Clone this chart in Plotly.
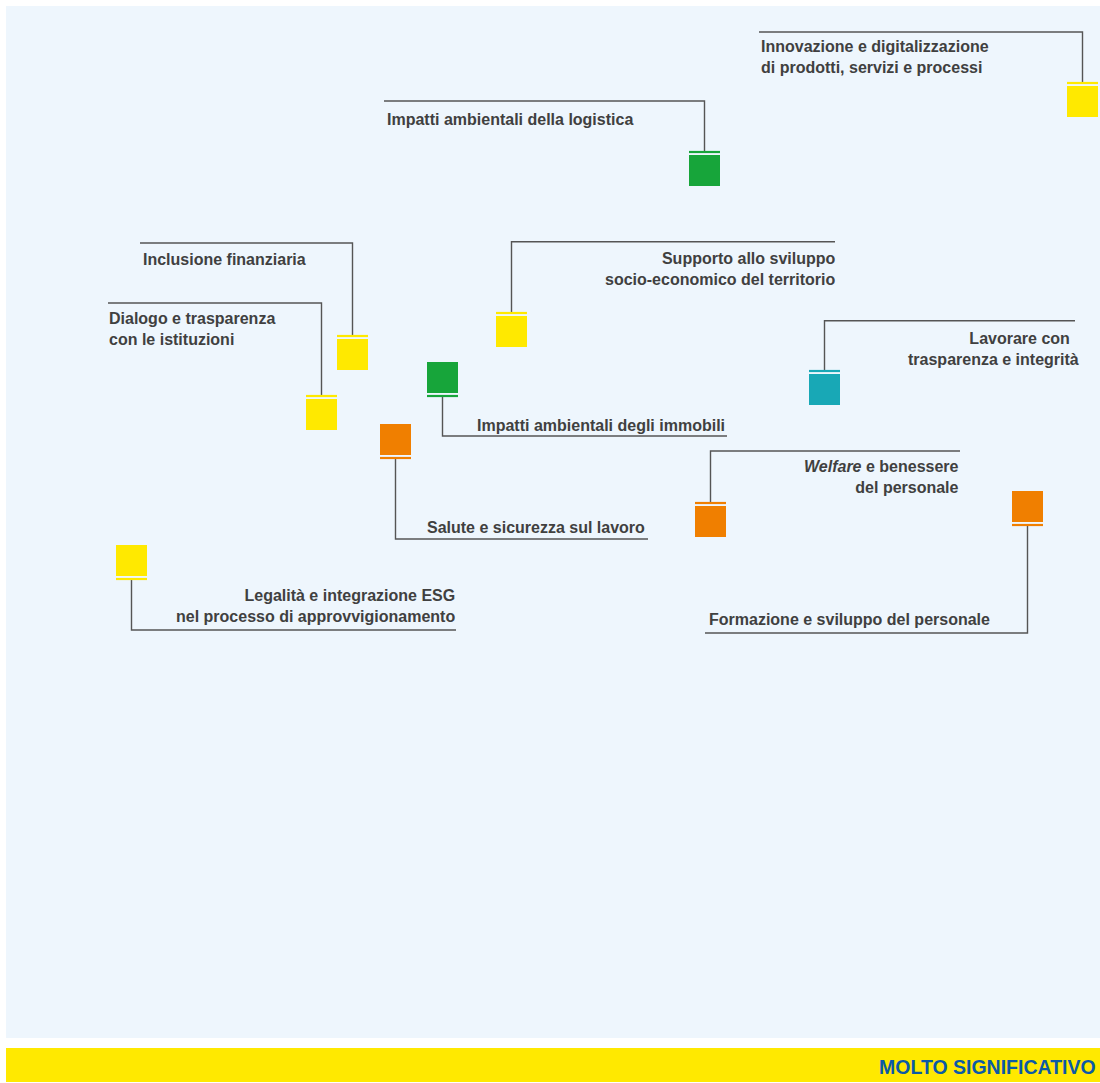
import plotly.graph_objects as go

# ---------------- data ----------------
topics = [
    "Innovazione e digitalizzazione di prodotti, servizi e processi",
    "Impatti ambientali della logistica",
    "Inclusione finanziaria",
    "Dialogo e trasparenza con le istituzioni",
    "Supporto allo sviluppo socio-economico del territorio",
    "Lavorare con trasparenza e integrità",
    "Impatti ambientali degli immobili",
    "Salute e sicurezza sul lavoro",
    "Welfare e benessere del personale",
    "Formazione e sviluppo del personale",
    "Legalità e integrazione ESG nel processo di approvvigionamento",
]
x_values = [10.765, 6.985, 3.465, 3.155, 5.055, 8.185, 4.365, 3.895, 7.045, 10.215, 1.255]
y_values = [9.365, 8.675, 6.835, 6.235, 7.065, 6.485, 6.605, 5.985, 5.165, 5.315, 4.775]
pillar = ["gov", "env", "gov", "gov", "gov", "ethics", "env", "social", "social", "social", "gov"]
label_text = [
    "Innovazione e digitalizzazione<br>di prodotti, servizi e processi",
    "Impatti ambientali della logistica",
    "Inclusione finanziaria",
    "Dialogo e trasparenza<br>con le istituzioni",
    "Supporto allo sviluppo<br>socio-economico del territorio",
    "Lavorare con&nbsp;&nbsp;<br>trasparenza e integrità",
    "Impatti ambientali degli immobili",
    "Salute e sicurezza sul lavoro",
    "<i>Welfare</i> e benessere<br>del personale",
    "Formazione e sviluppo del personale",
    "Legalità e integrazione ESG<br>nel processo di approvvigionamento",
]
band_label = "MOLTO SIGNIFICATIVO"

# ---------------- layout parameters (positions / styles) ----------------
colors = {"gov": "#FFE900", "env": "#17A53A", "social": "#F07F00", "ethics": "#18A8B6"}
# cap side: +1 cap above square, -1 cap below
cap_side = [1, 1, 1, 1, 1, 1, -1, -1, 1, -1, -1]
# leader elbow (horizontal line) y and far end x
elbow_y = [10.06, 9.37, 7.95, 7.35, 7.963, 7.173, 6.02, 4.99, 5.87, 4.05, 4.08]
elbow_x = [7.53, 3.78, 1.34, 1.02, 8.29, 10.69, 7.21, 6.42, 9.54, 6.99, 4.50]
label_x = [7.535, 3.795, 1.355, 1.015, 8.295, 10.74, 7.195, 6.395, 9.535, 7.015, 4.495]
label_y = [9.808, 9.19, 7.785, 7.095, 7.695, 6.895, 6.13, 5.105, 5.608, 4.185, 4.325]
label_anchor = ["left", "left", "left", "left", "right", "right", "right", "right", "right", "left", "right"]
cap_offset = 0.185
sq_size = 31
text_color = "#404040"
leader_color = "#555555"
label_size = 16

fig = go.Figure()

# leader lines
for i in range(len(topics)):
    x0 = x_values[i]
    y_start = y_values[i] + cap_side[i] * (cap_offset + 0.01)
    fig.add_trace(go.Scatter(
        x=[x0, x0, elbow_x[i]],
        y=[y_start, elbow_y[i], elbow_y[i]],
        mode="lines", line=dict(color=leader_color, width=1.4),
        hoverinfo="skip", showlegend=False,
    ))

# squares
fig.add_trace(go.Scatter(
    x=x_values, y=y_values, mode="markers",
    marker=dict(symbol="square", size=sq_size,
                color=[colors[p] for p in pillar], line=dict(width=0)),
    text=topics, hoverinfo="text", showlegend=False,
))
# caps
fig.add_trace(go.Scatter(
    x=x_values,
    y=[y + s * cap_offset for y, s in zip(y_values, cap_side)],
    mode="markers",
    marker=dict(symbol="line-ew", size=sq_size / 1.4,
                line=dict(width=2.2, color=[colors[p] for p in pillar])),
    hoverinfo="skip", showlegend=False,
))

annotations = []
for i in range(len(topics)):
    annotations.append(dict(
        x=label_x[i], y=label_y[i], xref="x", yref="y",
        text="<b>" + label_text[i] + "</b>", showarrow=False,
        xanchor=label_anchor[i], yanchor="middle", align=label_anchor[i],
        font=dict(family="Liberation Sans, Arial, sans-serif", size=label_size, color=text_color),
        borderpad=0,
    ))
annotations.append(dict(
    x=0.797, y=-0.0281, xref="paper", yref="paper",
    text="<b>" + band_label + "</b>", showarrow=False,
    xanchor="left", yanchor="middle",
    font=dict(family="Liberation Sans, Arial, sans-serif", size=19.5, color="#0B5AA6"),
    borderpad=0,
))

fig.update_layout(
    width=1100, height=1083,
    margin=dict(l=6, r=0, t=6, b=45),
    paper_bgcolor="white", plot_bgcolor="#EEF6FD",
    xaxis=dict(range=[0, 10.94], visible=False, fixedrange=True),
    yaxis=dict(range=[0, 10.32], visible=False, fixedrange=True),
    annotations=annotations,
    shapes=[dict(type="rect", xref="paper", yref="paper",
                 x0=0, x1=1, y0=-0.0426, y1=-0.0097,
                 fillcolor="#FFE900", line=dict(width=0), layer="below")],
    showlegend=False,
)

fig.write_html(
    "out.html",
    config={"displayModeBar": False},
    post_script=["document.body.style.margin='0';document.body.style.overflow='hidden';"],
)
